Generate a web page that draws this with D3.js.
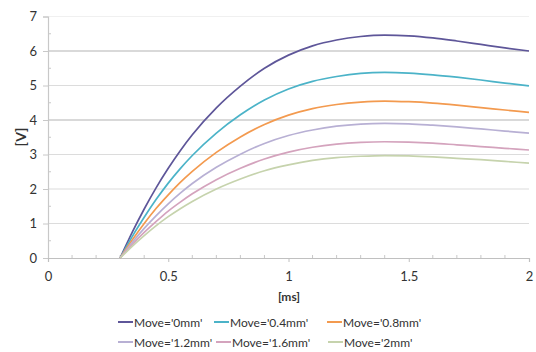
<!DOCTYPE html>
<html><head><meta charset="utf-8">
<script src="https://cdn.jsdelivr.net/npm/d3@7"></script>
<style>body{margin:0;background:#fff}svg text{font-family:Lato,"Open Sans",sans-serif;fill:#333}</style>
</head><body><svg id="c" width="536" height="352"></svg>
<script>
const xs = [0.3,0.35,0.4,0.45,0.5,0.55,0.6,0.7,0.8,0.9,1.0,1.1,1.2,1.3,1.4,1.5,1.6,1.7,1.8,1.9,2.0];
const seriesNames = ["Move='0mm'","Move='0.4mm'","Move='0.8mm'","Move='1.2mm'","Move='1.6mm'","Move='2mm'"];
const move0   = [0,0.74,1.42,2.04,2.60,3.11,3.57,4.35,4.98,5.50,5.88,6.15,6.32,6.42,6.46,6.44,6.38,6.29,6.19,6.09,6.00];
const move04  = [0,0.62,1.18,1.70,2.17,2.59,2.97,3.62,4.15,4.58,4.90,5.12,5.26,5.35,5.38,5.36,5.31,5.24,5.16,5.07,4.99];
const move08  = [0,0.52,1.00,1.44,1.83,2.19,2.51,3.06,3.51,3.87,4.14,4.33,4.45,4.52,4.55,4.53,4.49,4.43,4.36,4.29,4.22];
const move12  = [0,0.45,0.86,1.23,1.57,1.88,2.16,2.63,3.01,3.32,3.55,3.71,3.82,3.88,3.90,3.89,3.85,3.80,3.74,3.68,3.62];
const move16  = [0,0.39,0.74,1.06,1.36,1.62,1.86,2.27,2.60,2.87,3.07,3.21,3.30,3.35,3.37,3.36,3.33,3.28,3.23,3.18,3.13];
const move20  = [0,0.34,0.65,0.94,1.20,1.43,1.64,2.00,2.29,2.53,2.70,2.83,2.91,2.95,2.97,2.96,2.93,2.89,2.85,2.80,2.75];
const xTicks = [0,0.5,1,1.5,2];
const yTicks = [0,1,2,3,4,5,6,7];
const colors = ["#5e5699","#4bb3c8","#f39a4f","#b8b0d4","#d4a3bd","#c6d3ad"];
const allValues = [move0,move04,move08,move12,move16,move20];

const svg = d3.select("#c");
const x = d3.scaleLinear().domain([0,2]).range([48,529]);
const y = d3.scaleLinear().domain([0,7]).range([258,16.5]);

// gridlines
svg.append("g").selectAll("line").data(yTicks.filter(d=>d>0)).join("line")
  .attr("x1",48).attr("x2",529).attr("y1",d=>y(d)).attr("y2",d=>y(d))
  .attr("stroke",d=>d===7?"#f0f0f0":(d===6||d===4)?"#b4b4b4":"#dcdcdc").attr("stroke-width",1.2);

// y axis
const ya = svg.append("g").attr("transform","translate(48,0)")
  .call(d3.axisLeft(y).tickValues(yTicks).tickSize(5).tickPadding(6).tickFormat(d3.format("d")));
ya.select(".domain").attr("stroke","#c8c8c8").attr("stroke-width",1.2);
ya.selectAll(".tick line").attr("stroke","#c8c8c8");
ya.selectAll("text").style("font-size","13px").attr("fill","#333");
svg.append("g").selectAll("line").data([0.5,1.5,2.5,3.5,4.5,5.5,6.5]).join("line")
  .attr("x1",48).attr("x2",51).attr("y1",d=>y(d)).attr("y2",d=>y(d)).attr("stroke","#c8c8c8");

// x axis
const xa = svg.append("g").attr("transform","translate(0,258)")
  .call(d3.axisBottom(x).tickValues(xTicks).tickSize(4).tickPadding(10).tickFormat(d=>String(d)));
xa.select(".domain").attr("stroke","#c0c0c0").attr("stroke-width",1.2);
xa.selectAll(".tick line").attr("stroke","#c0c0c0");
xa.selectAll("text").style("font-size","13px").attr("fill","#333");
svg.append("g").selectAll("line").data(d3.range(1,20).map(i=>i/10).filter(d=>Math.abs(d*2-Math.round(d*2))>1e-6)).join("line")
  .attr("x1",d=>x(d)).attr("x2",d=>x(d)).attr("y1",258).attr("y2",255).attr("stroke","#c8c8c8");

// axis titles
svg.append("text").attr("x",289).attr("y",301).attr("text-anchor","middle")
  .style("font-size","12px").style("font-weight","bold").text("[ms]");
svg.append("text").attr("transform","translate(26,137) rotate(-90)").attr("text-anchor","middle")
  .style("font-size","14px").style("font-weight","bold").text("[V]");

// lines
const line = d3.line().x((d,i)=>x(xs[i])).y(d=>y(d)).curve(d3.curveMonotoneX);
svg.append("g").selectAll("path").data(allValues).join("path")
  .attr("d",d=>line(d)).attr("fill","none").attr("stroke",(d,i)=>colors[i]).attr("stroke-width",1.7);

// legend
const legPos = [[118,322],[214,322],[327,322],[118,342],[216,342],[328,342]];
const lg = svg.append("g").selectAll("g").data(seriesNames).join("g")
  .attr("transform",(d,i)=>`translate(${legPos[i][0]},${legPos[i][1]})`);
lg.append("line").attr("x1",0).attr("x2",15).attr("y1",0).attr("y2",0)
  .attr("stroke",(d,i)=>colors[i]).attr("stroke-width",2);
lg.append("text").attr("x",16).attr("y",4.5).style("font-size","12px").text(d=>d);
</script></body></html>
